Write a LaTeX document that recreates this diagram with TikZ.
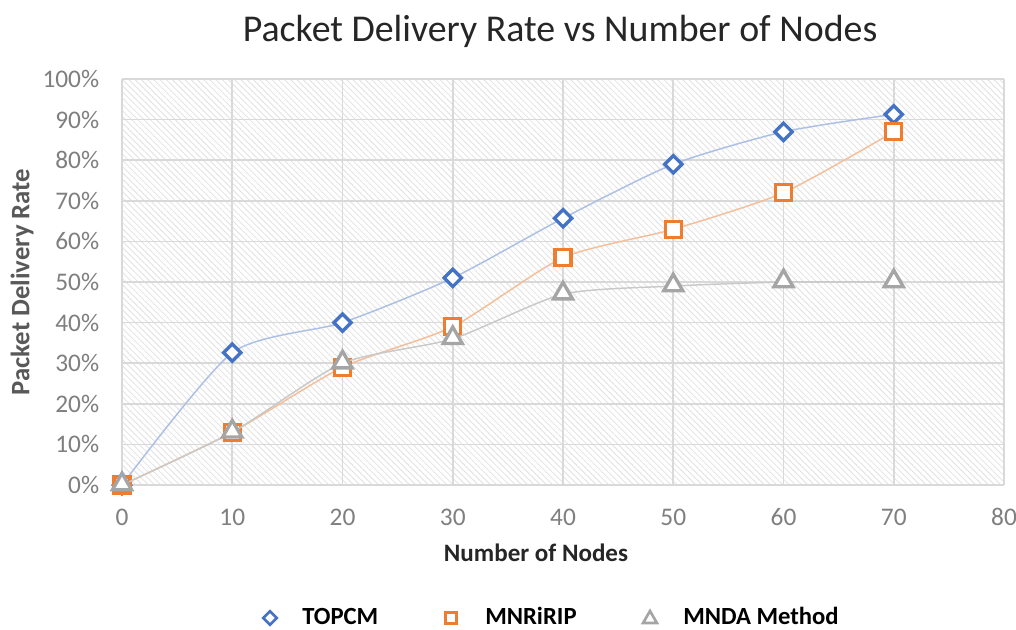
\documentclass[tikz,border=0pt]{standalone}
\usepackage{fontspec}
\setmainfont{Carlito}
\usetikzlibrary{patterns.meta,shapes.geometric}
\definecolor{seriesA}{HTML}{4472C4}
\definecolor{seriesB}{HTML}{ED7D31}
\definecolor{seriesC}{HTML}{A5A5A5}
\definecolor{gridc}{HTML}{D9D9D9}
\definecolor{hatchc}{HTML}{E2E2E2}
\definecolor{ticktext}{HTML}{7F7F7F}
\definecolor{axtitle}{HTML}{595959}
\tikzset{
  ticklabel/.style={font=\fontsize{19}{21}\selectfont, text=ticktext, inner sep=0pt},
  gridline/.style={draw=gridc, line width=1.2pt},
  curveA/.style={draw=seriesA!45, line width=1.1pt, smooth, tension=0.4},
  curveB/.style={draw=seriesB!50, line width=1.1pt, smooth, tension=0.4},
  curveC/.style={draw=seriesC!60, line width=1.1pt, smooth, tension=0.4},
  markA/.style={diamond, draw=seriesA, fill=white, line width=2.5pt, minimum width=14pt, minimum height=14pt, inner sep=0pt},
  markB/.style={rectangle, draw=seriesB, fill=white, line width=2.5pt, minimum size=12pt, inner sep=0pt},
  markC/.style={regular polygon, regular polygon sides=3, draw=seriesC, fill=white, line width=2.5pt, minimum size=16.5pt, inner sep=0pt},
  legA/.style={markA, line width=2pt, minimum width=11pt, minimum height=11pt},
  legB/.style={markB, line width=2pt, minimum size=8.5pt},
  legC/.style={markC, line width=2pt, minimum size=12pt},
  legtext/.style={font=\bfseries\fontsize{18.5}{20}\selectfont, anchor=base west, inner sep=0pt, text depth=0pt},
}
\begin{document}
\begin{tikzpicture}[x=0.75pt, y=-0.75pt]
\useasboundingbox (0,0) rectangle (1016,629);
\fill[white] (0,0) rectangle (1016,629);

% title
\node[font=\fontsize{28.4}{32}\selectfont, text=black!85] (title) at (560,31) {Packet Delivery Rate vs Number of Nodes};

% plot area: x from 0 to 80, y from 0 to 100 %
\begin{scope}[shift={(122,485)}, x=8.269pt, y=3.045pt]
  \fill[pattern={Lines[angle=-45, distance=3.3pt, line width=0.6pt]}, pattern color=hatchc] (0,0) rectangle (80,100);
  \foreach \v in {0,10,...,100} \draw[gridline] (0,\v) -- (80,\v);
  \foreach \u in {0,10,...,80} \draw[gridline] (\u,0) -- (\u,100);

  % y tick labels
  \foreach \v in {0,10,...,100}
    \node[ticklabel, anchor=east] (yl\v) at (-2.05,\v) {\v\%};
  % x tick labels
  \foreach \u in {0,10,...,80}
    \node[ticklabel] (xl\u) at (\u,-7.9) {\u};

  % TOPCM
  \draw[curveA] plot coordinates {(0,0) (10,32.6) (20,40) (30,51) (40,65.7) (50,79) (60,87) (70,91.3)};
  \foreach \u/\v [count=\i] in {0/0,10/32.6,20/40,30/51,40/65.7,50/79,60/87,70/91.3}
    \node[markA] (a\i) at (\u,\v) {};

  % MNRiRIP
  \draw[curveB] plot coordinates {(0,0) (10,13) (20,29) (30,39) (40,56) (50,63) (60,72) (70,87)};
  \foreach \u/\v [count=\i] in {0/0,10/13,20/29,30/39,40/56,50/63,60/72,70/87}
    \node[markB] (b\i) at (\u,\v) {};

  % MNDA Method
  \draw[curveC] plot coordinates {(0,0) (10,13) (20,30) (30,36) (40,47) (50,49) (60,50) (70,50)};
  \foreach \u/\v [count=\i] in {0/0,10/13,20/30,30/36,40/47,50/49,60/50,70/50}
    \node[markC, yshift=0.6pt] (c\i) at (\u,\v) {};
\end{scope}

% axis titles
\node[font=\bfseries\fontsize{18.8}{21}\selectfont, text=black!85] (xtitle) at (536,553) {Number of Nodes};
\node[font=\bfseries\fontsize{20}{22}\selectfont, text=axtitle, rotate=90] (ytitle) at (22,282) {Packet Delivery Rate};

% legend
\node[legA] (lgA) at (270,618) {};
\node[legtext] (ltA) at (302,624) {TOPCM};
\node[legB] (lgB) at (451,618) {};
\node[legtext] (ltB) at (485,624) {MNRiRIP};
\node[legC] (lgC) at (650,619) {};
\node[legtext] (ltC) at (683,624) {MNDA Method};
\end{tikzpicture}
\end{document}
